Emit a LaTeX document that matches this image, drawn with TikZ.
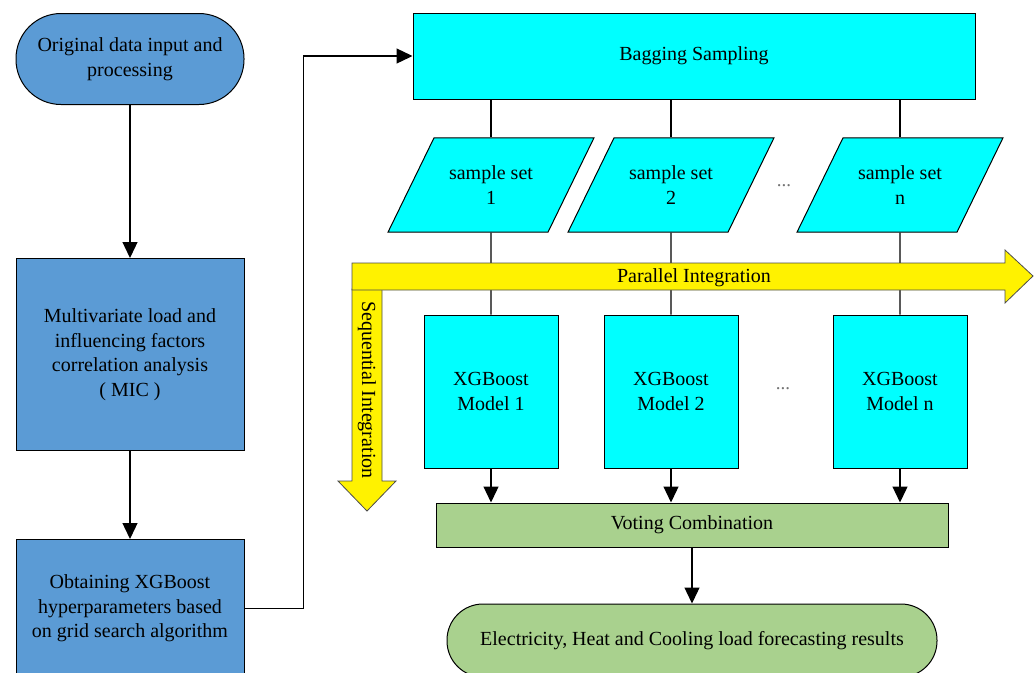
\documentclass[tikz,border=0pt]{standalone}
\usepackage{fontspec}
\setmainfont{Liberation Serif}
\usetikzlibrary{shapes.geometric, arrows.meta, positioning}

\definecolor{stepblue}{RGB}{91,155,213}
\definecolor{bagcyan}{RGB}{0,255,255}
\definecolor{votegreen}{RGB}{169,209,142}

\begin{document}
\begin{tikzpicture}[x=1pt, y=-1pt,
    font = \fontsize{20}{24.5}\selectfont,
    terminator/.style = {rectangle, draw, align=center, line width=1pt, fill=stepblue, minimum width=228pt},
    process/.style = {rectangle, draw, align=center, line width=1pt, fill=stepblue, minimum width=228pt},
    bagbox/.style = {rectangle, draw, align=center, line width=1pt, fill=bagcyan},
    sampleset/.style = {trapezium, draw, align=center, line width=1pt, fill=bagcyan, trapezium left angle=64, trapezium right angle=116, trapezium stretches body, inner ysep=28pt, minimum width=206pt, minimum height=94pt},
    model/.style = {rectangle, draw, align=center, line width=1pt, fill=bagcyan, minimum width=134pt, minimum height=153pt},
    vote/.style = {rectangle, draw, align=center, line width=1pt, fill=votegreen},
    band/.style = {draw=black!70, fill=yellow, line width=0.8pt},
    dots/.style = {font=\fontsize{19}{21}\selectfont, text=black!55},
    link/.style = {line width=1.3pt},
    >={Triangle[length=16pt, width=15pt]}]

\useasboundingbox (0,0) rectangle (1036,672);

  % left column
  \node[terminator, minimum height=91pt, rounded corners=45pt] (start) at (130,59) {Original data input and\\processing};
  \node[process, minimum height=192pt, below=153pt of start] (mic) {Multivariate load and\\influencing factors\\correlation analysis\\( MIC )};
  \node[process, minimum height=138pt, below=88pt of mic] (grid) {Obtaining XGBoost\\hyperparameters based\\on grid search algorithm};

  % ensemble part
  \node[bagbox, minimum width=562pt, minimum height=86pt] (bag) at (694,56) {Bagging Sampling};
  \node[sampleset] (set1) at (491,185) {sample set\\1};
  \node[sampleset] (set2) at (671,185) {sample set\\2};
  \node[sampleset] (setn) at (900,185) {sample set\\n};
  \node[dots] (gap1) at (784,186) {...};
  \node[model, below=82pt of set1] (m1) {XGBoost\\Model 1};
  \node[model, below=82pt of set2] (m2) {XGBoost\\Model 2};
  \node[model, below=82pt of setn] (mn) {XGBoost\\Model n};
  \node[dots] (gap2) at (783,389) {...};
  \node[vote, minimum width=512pt, minimum height=44pt] (vote) at (692,525) {Voting Combination};
  \node[vote, minimum width=490pt, minimum height=73pt, rounded corners=36pt, below=56pt of vote] (result) {Electricity, Heat and Cooling load forecasting results};

  %connectors
  \draw[link,->] (start) -- (mic);
  \draw[link,->] (mic) -- (grid);
  \draw[link,->] (grid.east) -- ++(59,0) |- (bag.west);
  \foreach \i in {1,2,n} {
    \draw[link] (set\i.north |- bag.south) -- (set\i.north);
    \draw[link] (set\i) -- (m\i);
    \draw[link,->] (m\i) -- (m\i.south |- vote.north);
  }
  \draw[link,->] (vote) -- (result);

  % integration arrows
  \draw[band] (352,289) -- (382,289) -- (382,481) -- (396,481) -- (367,511) -- (338,481) -- (352,481) -- cycle;
  \draw[band] (352,263) -- (1005,263) -- (1005,250) -- (1033,276) -- (1005,303) -- (1005,290) -- (352,290) -- cycle;
  \node (par) at (694,278) {Parallel Integration};
  \node[rotate=-90] (seq) at (367,390) {Sequential Integration};
\end{tikzpicture}
\end{document}
